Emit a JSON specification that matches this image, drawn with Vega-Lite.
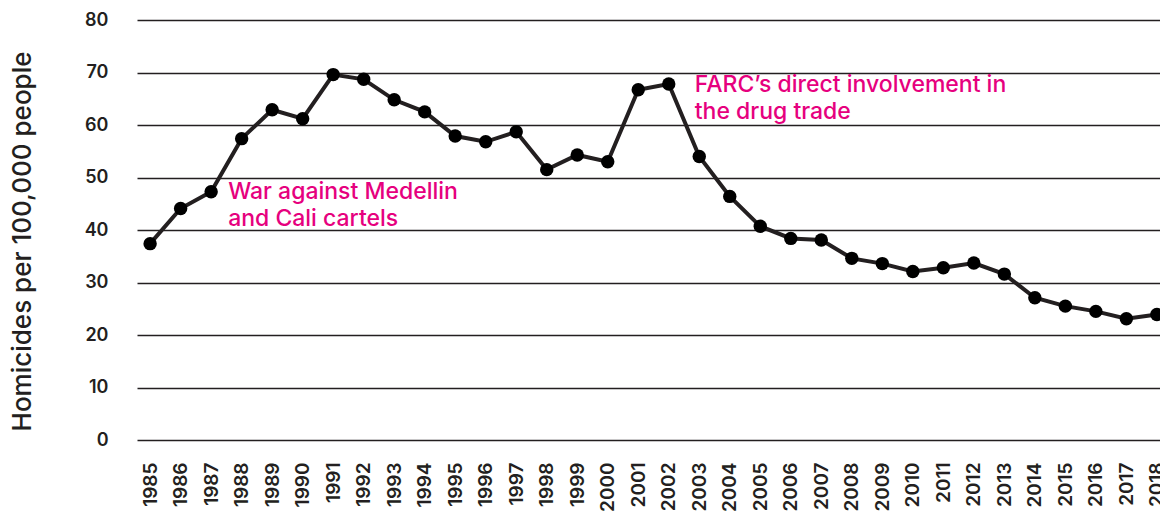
{
  "$schema": "https://vega.github.io/schema/vega-lite/v6.json",
  "autosize": "none",
  "width": 1033,
  "height": 420,
  "padding": {"left": 137, "top": 20, "right": 0, "bottom": 74},
  "background": "white",
  "config": {
    "view": {"stroke": null},
    "font": "Inter"
  },
  "datasets": {
    "homicides": [
      {"year": 1985, "rate": 37.4},
      {"year": 1986, "rate": 44.1},
      {"year": 1987, "rate": 47.3},
      {"year": 1988, "rate": 57.4},
      {"year": 1989, "rate": 62.9},
      {"year": 1990, "rate": 61.2},
      {"year": 1991, "rate": 69.6},
      {"year": 1992, "rate": 68.7},
      {"year": 1993, "rate": 64.8},
      {"year": 1994, "rate": 62.5},
      {"year": 1995, "rate": 57.9},
      {"year": 1996, "rate": 56.8},
      {"year": 1997, "rate": 58.7},
      {"year": 1998, "rate": 51.5},
      {"year": 1999, "rate": 54.3},
      {"year": 2000, "rate": 53.0},
      {"year": 2001, "rate": 66.7},
      {"year": 2002, "rate": 67.8},
      {"year": 2003, "rate": 54.0},
      {"year": 2004, "rate": 46.4},
      {"year": 2005, "rate": 40.7},
      {"year": 2006, "rate": 38.4},
      {"year": 2007, "rate": 38.1},
      {"year": 2008, "rate": 34.6},
      {"year": 2009, "rate": 33.6},
      {"year": 2010, "rate": 32.1},
      {"year": 2011, "rate": 32.8},
      {"year": 2012, "rate": 33.7},
      {"year": 2013, "rate": 31.6},
      {"year": 2014, "rate": 27.1},
      {"year": 2015, "rate": 25.5},
      {"year": 2016, "rate": 24.5},
      {"year": 2017, "rate": 23.1},
      {"year": 2018, "rate": 23.9}
    ],
    "notes": [
      {"year": 1987, "rate": 45.9, "shift": 17, "label": ["War against Medellin", "and Cali cartels"]},
      {"year": 2002, "rate": 66.3, "shift": 26, "label": ["FARC’s direct involvement in", "the drug trade"]}
    ]
  },
  "layer": [
    {
      "data": {"name": "homicides"},
      "mark": {"type": "line", "color": "#231f20", "strokeWidth": 4},
      "encoding": {
        "x": {
          "field": "year",
          "type": "ordinal",
          "scale": {"type": "point", "padding": 0.43},
          "axis": {
            "title": null,
            "labelAngle": -90,
            "labelFontSize": 19,
            "labelFontWeight": 600,
            "labelColor": "#231f20",
            "labelPadding": 22,
            "domain": false,
            "ticks": false,
            "grid": false
          }
        },
        "y": {
          "field": "rate",
          "type": "quantitative",
          "scale": {"domain": [0, 80], "nice": false},
          "axis": {
            "title": "Homicides per 100,000 people",
            "titleFontSize": 26,
            "titleFontWeight": 500,
            "titleColor": "#231f20",
            "titleAngle": -90,
            "titleBaseline": "middle",
            "titleAlign": "center",
            "titleX": -115,
            "titleY": 221,
            "values": [0, 10, 20, 30, 40, 50, 60, 70, 80],
            "labelFontSize": 18,
            "labelFontWeight": 600,
            "labelColor": "#231f20",
            "labelPadding": 29,
            "domain": false,
            "ticks": false,
            "grid": true,
            "gridColor": "#231f20",
            "gridWidth": 1.5,
            "gridOpacity": 1
          }
        }
      }
    },
    {
      "data": {"name": "homicides"},
      "mark": {"type": "point", "filled": true, "color": "#000000", "size": 180, "opacity": 1},
      "encoding": {
        "x": {"field": "year", "type": "ordinal"},
        "y": {"field": "rate", "type": "quantitative"}
      }
    },
    {
      "data": {"name": "notes"},
      "mark": {
        "type": "text",
        "align": "left",
        "baseline": "alphabetic",
        "fontSize": 23,
        "fontWeight": 500,
        "lineHeight": 27,
        "color": "#e6007e"
      },
      "encoding": {
        "x": {"field": "year", "type": "ordinal"},
        "y": {"field": "rate", "type": "quantitative"},
        "text": {"field": "label"},
        "xOffset": {"field": "shift", "type": "quantitative", "scale": null}
      }
    }
  ]
}
